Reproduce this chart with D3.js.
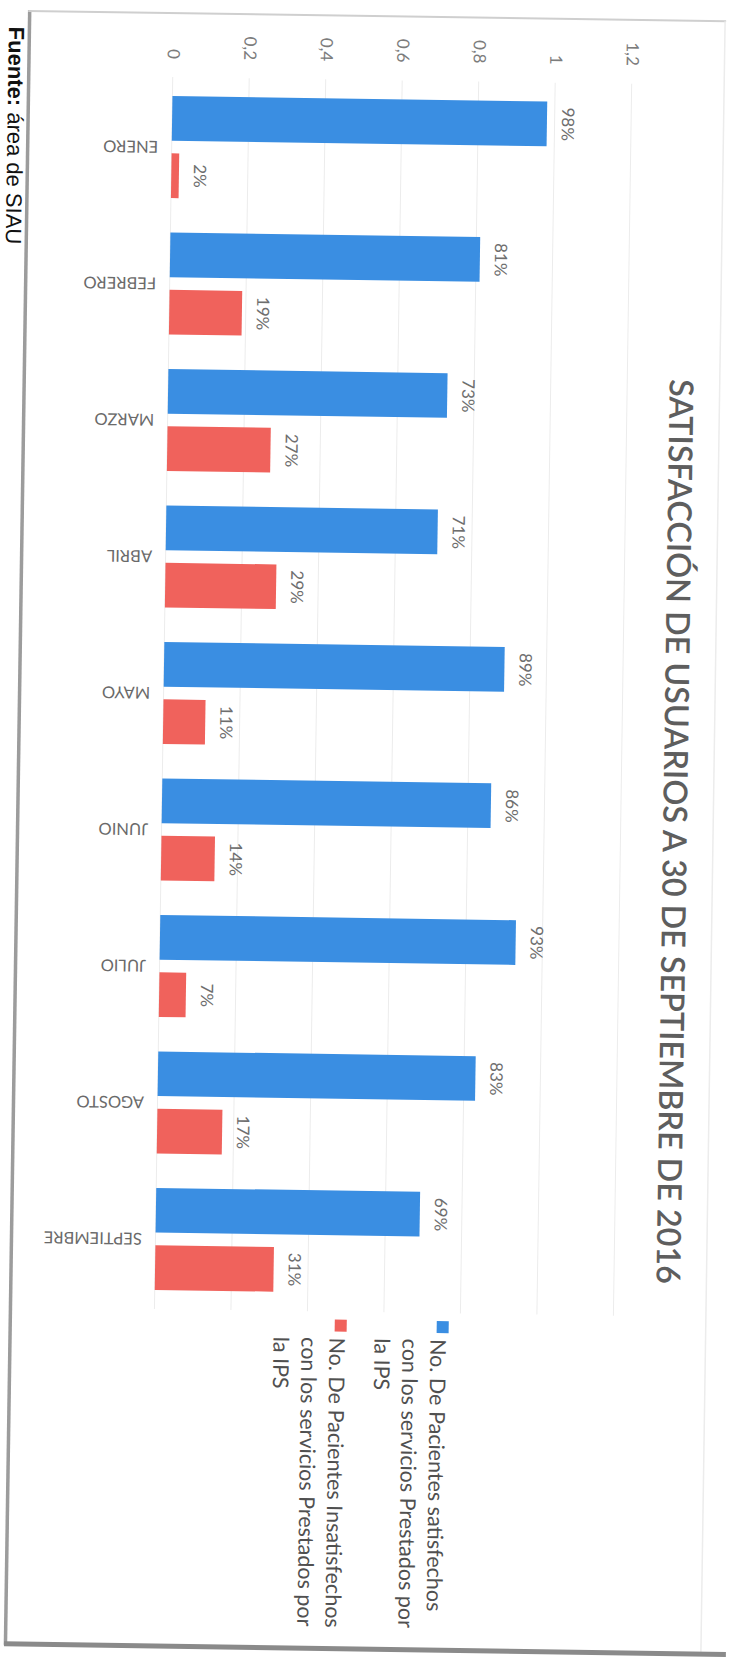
<!DOCTYPE html>
<html>
<head>
<meta charset="utf-8">
<script src="https://cdn.jsdelivr.net/npm/d3@7"></script>
<style>
  html, body { margin: 0; padding: 0; background: #ffffff; }
  svg { display: block; }
</style>
</head>
<body>
<svg id="chart" width="736" height="1659"></svg>
<script>
// ---------------- data ----------------
const categories = ["ENERO", "FEBRERO", "MARZO", "ABRIL", "MAYO", "JUNIO", "JULIO", "AGOSTO", "SEPTIEMBRE"];
const satisfechos   = [0.98, 0.81, 0.73, 0.71, 0.89, 0.86, 0.93, 0.83, 0.69];
const insatisfechos = [0.02, 0.19, 0.27, 0.29, 0.11, 0.14, 0.07, 0.17, 0.31];
const valueLabelsSat   = ["98%", "81%", "73%", "71%", "89%", "86%", "93%", "83%", "69%"];
const valueLabelsInsat = ["2%", "19%", "27%", "29%", "11%", "14%", "7%", "17%", "31%"];
const tickValues = [0, 0.2, 0.4, 0.6, 0.8, 1, 1.2];
const tickLabels = ["0", "0,2", "0,4", "0,6", "0,8", "1", "1,2"];
const legendSat   = ["No. De Pacientes satisfechos", "con los servicios Prestados por", "la IPS"];
const legendInsat = ["No. De Pacientes Insatisfechos", "con los servicios Prestados por", "la IPS"];
const titleText = "SATISFACCIÓN DE USUARIOS A 30 DE SEPTIEMBRE DE 2016";
const sourceBold = "Fuente:";
const sourceRest = " área de SIAU";

// ---------------- styles ----------------
const BLUE = "#3a8ee2";
const RED = "#f0625c";
const FONT = "Lato, 'Open Sans', 'Noto Sans', sans-serif";

const svg = d3.select("#chart");
svg.append("rect").attr("width", 736).attr("height", 1659).attr("fill", "#ffffff");

// the scanned page is turned a quarter turn plus a slight skew
const page = svg.append("g").attr("transform", "rotate(0.85, 368, 700)");

// frame of the chart
page.append("line").attr("x1", 19.5).attr("x2", 19.5).attr("y1", 15).attr("y2", 1650)
  .attr("stroke", "#9c9c9c").attr("stroke-width", 3.5);
page.append("line").attr("x1", 18).attr("x2", 716).attr("y1", 16).attr("y2", 16)
  .attr("stroke", "#cfcfcf").attr("stroke-width", 2);
page.append("line").attr("x1", 715).attr("x2", 715).attr("y1", 16).attr("y2", 1650)
  .attr("stroke", "#ececec").attr("stroke-width", 1.5);
page.append("line").attr("x1", 18).attr("x2", 740).attr("y1", 1649).attr("y2", 1649)
  .attr("stroke", "#8a8a8a").attr("stroke-width", 5);

// scales: value -> horizontal, category -> vertical
const x = d3.scaleLinear().domain([0, 1.2]).range([163.5, 622.5]);
const y = d3.scaleBand().domain(categories).range([81.75, 1310.25]).paddingInner(0).paddingOuter(0);
const series = ["sat", "insat"];
const ySub = d3.scaleBand().domain(series).range([-51, 51]).paddingInner(0.22);

// gridlines
page.append("g").selectAll("line").data(tickValues).join("line")
  .attr("x1", d => x(d)).attr("x2", d => x(d))
  .attr("y1", 80).attr("y2", 1312)
  .attr("stroke", "#ececec").attr("stroke-width", 1);

// value axis (top), labels rotated to read downward
const axis = d3.axisTop(x).tickValues(tickValues)
  .tickFormat((d, i) => tickLabels[i]).tickSize(0);
const axG = page.append("g").attr("transform", "translate(0,62)").call(axis);
axG.select(".domain").remove();
axG.selectAll("text")
  .attr("x", 0).attr("y", 0).attr("dy", "0.35em")
  .attr("transform", "rotate(90)")
  .attr("text-anchor", "end")
  .attr("fill", "#7c7c7c")
  .style("font-family", FONT).style("font-size", "17px");

// bars
const rows = categories.map((c, i) => ({
  cat: c,
  vals: [
    { key: "sat", v: satisfechos[i], lab: valueLabelsSat[i], color: BLUE },
    { key: "insat", v: insatisfechos[i], lab: valueLabelsInsat[i], color: RED }
  ]
}));

const grp = page.append("g").selectAll("g").data(rows).join("g")
  .attr("transform", d => `translate(0,${y(d.cat) + y.bandwidth() / 2})`);

grp.selectAll("rect").data(d => d.vals).join("rect")
  .attr("x", x(0))
  .attr("y", d => ySub(d.key))
  .attr("width", d => x(d.v) - x(0))
  .attr("height", ySub.bandwidth())
  .attr("fill", d => d.color);

grp.selectAll("text.val").data(d => d.vals).join("text")
  .attr("class", "val")
  .attr("transform", d => `translate(${x(d.v) + 15},${ySub(d.key) + ySub.bandwidth() / 2}) rotate(90)`)
  .attr("text-anchor", "middle")
  .attr("fill", "#6e6e6e")
  .style("font-family", FONT).style("font-size", "17px")
  .text(d => d.lab);

// category labels (upside-down in the scan)
page.append("g").selectAll("text").data(categories).join("text")
  .attr("transform", d => `translate(150,${y(d) + y.bandwidth() / 2}) rotate(180)`)
  .attr("dy", "0.35em")
  .attr("text-anchor", "start")
  .attr("fill", "#6a6a6a")
  .style("font-family", FONT).style("font-size", "16.5px")
  .text(d => d);

// title
page.append("text")
  .attr("transform", "translate(665,827) rotate(90)")
  .attr("text-anchor", "middle")
  .attr("fill", "#5e5e5e")
  .attr("font-weight", 600)
  .attr("textLength", 905).attr("lengthAdjust", "spacingAndGlyphs")
  .style("font-family", FONT).style("font-size", "33px")
  .text(titleText);

// legend
const legend = page.append("g");
const legendBlocks = [
  { lines: legendSat, color: BLUE, squareX: 446, baselines: [440, 412, 384] },
  { lines: legendInsat, color: RED, squareX: 344, baselines: [339, 311, 283] }
];
legendBlocks.forEach(b => {
  legend.append("rect").attr("x", b.squareX).attr("y", 1320).attr("width", 12).attr("height", 12)
    .attr("fill", b.color);
  b.lines.forEach((ln, i) => {
    legend.append("text")
      .attr("transform", `translate(${b.baselines[i]},1338) rotate(90)`)
      .attr("text-anchor", "start")
      .attr("fill", "#505050")
      .style("font-family", FONT).style("font-size", "21.5px")
      .text(ln);
  });
});

// source line at the page edge
const src = page.append("text")
  .attr("transform", "translate(-1,32) rotate(90)")
  .attr("fill", "#111")
  .style("font-family", "'Liberation Sans', Arial, sans-serif").style("font-size", "22px");
src.append("tspan").attr("font-weight", "bold").text(sourceBold);
src.append("tspan").text(sourceRest);
</script>
</body>
</html>
